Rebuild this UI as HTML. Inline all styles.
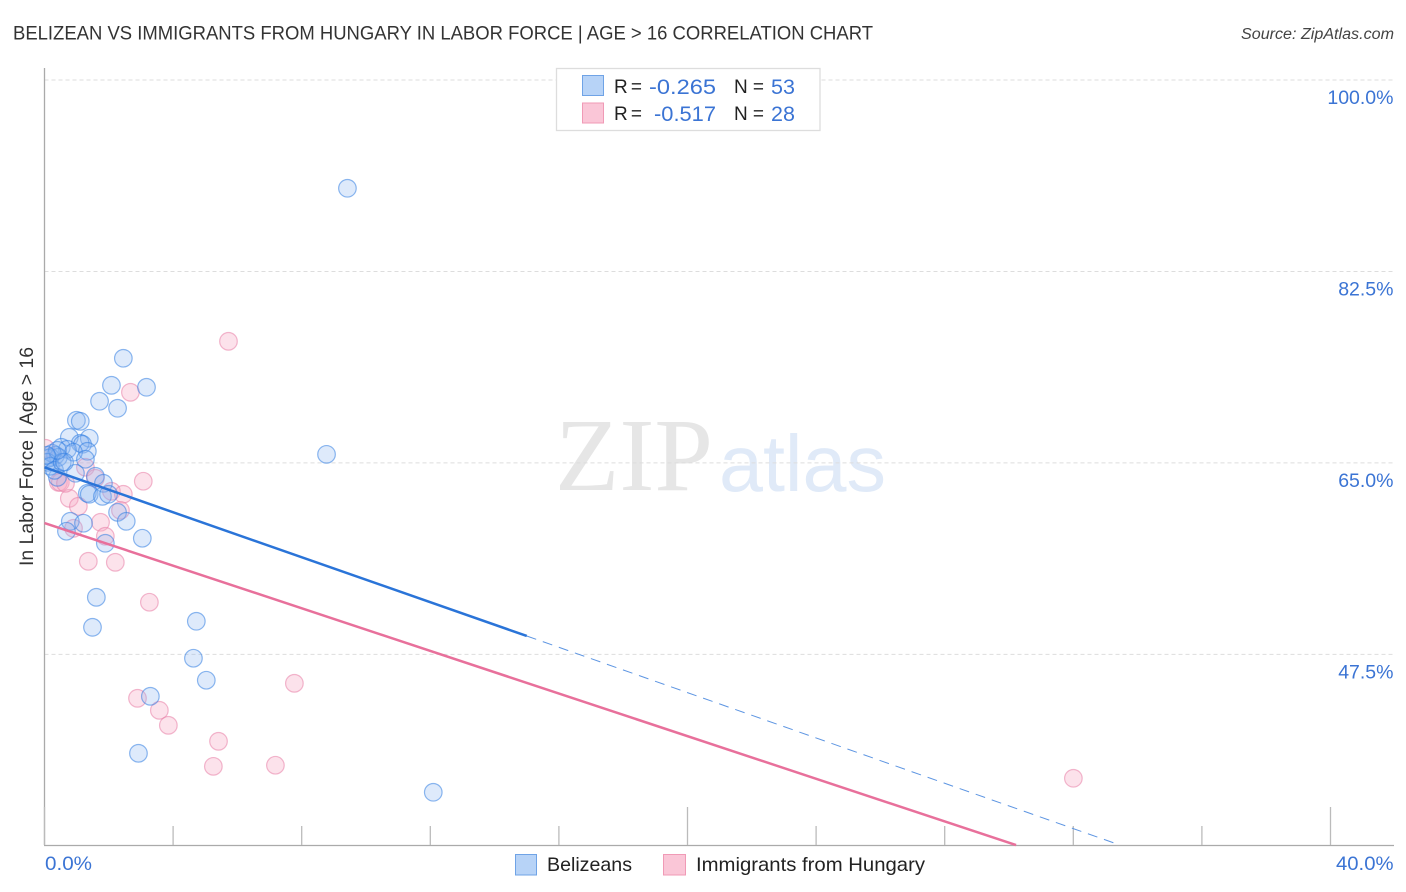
<!DOCTYPE html>
<html lang="en">
<head>
<meta charset="utf-8">
<title>Belizean vs Immigrants from Hungary Correlation Chart</title>
<style>
html,body{margin:0;padding:0;background:#fff;width:1406px;height:892px;overflow:hidden}
svg{display:block;font-family:"Liberation Sans",sans-serif}
</style>
</head>
<body>
<svg id="chart" width="1406" height="892" viewBox="0 0 1406 892" xmlns="http://www.w3.org/2000/svg">
  <defs><clipPath id="plot-clip"><rect x="44.5" y="60" width="1350" height="785"/></clipPath></defs>
  <text x="13" y="39.5" font-size="19" fill="#333" textLength="860" lengthAdjust="spacingAndGlyphs">BELIZEAN VS IMMIGRANTS FROM HUNGARY IN LABOR FORCE | AGE &gt; 16 CORRELATION CHART</text>
  <text x="1241" y="39" font-size="15.5" font-style="italic" fill="#444" textLength="153" lengthAdjust="spacingAndGlyphs">Source: ZipAtlas.com</text>

  <text x="555" y="490" font-family="'Liberation Serif',serif" font-size="104" fill="#e6e6e6" textLength="158" lengthAdjust="spacingAndGlyphs">ZIP</text>
  <text x="719" y="491" font-size="80" fill="#e0eaf8" textLength="167" lengthAdjust="spacingAndGlyphs">atlas</text>

  <g id="grid"></g>
  <line x1="44.5" y1="68" x2="44.5" y2="845" stroke="#aaa" stroke-width="1.3"/>
  <line x1="44" y1="845.5" x2="1394" y2="845.5" stroke="#aaa" stroke-width="1.3"/>
  <g id="ticks"></g>
  <g id="ylabels"></g>
  <g id="xlabels"></g>

  <g id="pink-points" clip-path="url(#plot-clip)"></g>
  <g id="blue-points" clip-path="url(#plot-clip)"></g>
  <g id="trends"></g>

  <text transform="translate(33,566) rotate(-90)" font-size="19" fill="#333" textLength="219" lengthAdjust="spacingAndGlyphs">In Labor Force | Age &gt; 16</text>

  <g>
    <rect x="556.5" y="68.5" width="263.5" height="62" fill="#fff" stroke="#ddd" stroke-width="1.3"/>
    <rect x="582.5" y="75.5" width="21" height="20" fill="#b7d3f7" stroke="#6fa3e6" stroke-width="1"/>
    <rect x="582.5" y="103" width="21" height="20" fill="#fac6d7" stroke="#f09ab6" stroke-width="1"/>
    <text x="614" y="93" font-size="19" fill="#222" textLength="28">R =</text>
    <text x="649" y="94" font-size="21.5" fill="#3b74d4" textLength="67" lengthAdjust="spacingAndGlyphs">-0.265</text>
    <text x="734" y="93" font-size="19" fill="#222" textLength="30">N =</text>
    <text x="771" y="94" font-size="21.5" fill="#3b74d4" textLength="24">53</text>
    <text x="614" y="120" font-size="19" fill="#222" textLength="28">R =</text>
    <text x="654" y="121" font-size="21.5" fill="#3b74d4" textLength="62" lengthAdjust="spacingAndGlyphs">-0.517</text>
    <text x="734" y="120" font-size="19" fill="#222" textLength="30">N =</text>
    <text x="771" y="121" font-size="21.5" fill="#3b74d4" textLength="24">28</text>
  </g>

  <g>
    <rect x="515.5" y="854.5" width="21" height="20.5" fill="#b7d3f7" stroke="#6fa3e6" stroke-width="1"/>
    <text x="547" y="871" font-size="19.5" fill="#222" textLength="85" lengthAdjust="spacingAndGlyphs">Belizeans</text>
    <rect x="663.5" y="854.5" width="22" height="20.5" fill="#fac6d7" stroke="#f09ab6" stroke-width="1"/>
    <text x="696" y="871" font-size="19.5" fill="#222" textLength="229" lengthAdjust="spacingAndGlyphs">Immigrants from Hungary</text>
  </g>
</svg>
<script>
const yTicks = [100, 82.5, 65, 47.5];
const yTickLabels = ["100.0%", "82.5%", "65.0%", "47.5%"];
const xTicks = [0, 4, 8, 12, 16, 20, 24, 28, 32, 36, 40];
const xMajorTicks = [0, 20, 40];
const xEndLabels = ["0.0%", "40.0%"];
const xEndValues = [0, 40];

const blueX = [9.41,2.44,2.07,3.16,1.70,2.26,0.98,1.10,0.76,1.38,1.10,1.17,0.51,1.32,0.70,0.89,0.33,0.17,0.11,0.42,0.23,1.26,0.95,1.57,1.82,1.32,1.38,1.79,1.98,2.26,2.53,0.79,1.20,0.67,1.88,3.03,0.39,1.60,1.48,4.71,4.62,5.02,3.28,2.91,12.08,8.76,0.08,0.17,0.30,0.54,0.61,0.39,0.05];
const blueY = [90.13,74.59,72.12,71.94,70.66,70.02,68.92,68.83,67.37,67.28,66.82,66.73,66.45,66.09,66.27,66.00,65.72,65.54,65.45,65.54,65.90,65.36,64.08,63.80,63.16,62.25,62.16,61.97,62.16,60.51,59.69,59.69,59.51,58.78,57.68,58.14,63.71,52.74,50.00,50.55,47.17,45.16,43.69,38.48,34.92,65.81,65.08,64.72,64.35,65.08,65.10,66.18,65.72];
const pinkX = [0.02,5.71,2.66,3.06,1.26,1.57,2.07,2.44,0.76,1.04,2.35,1.73,1.88,0.89,1.35,2.19,3.25,7.76,2.88,3.56,3.84,5.40,5.24,7.17,31.99,0.42,0.48,0.64];
const pinkY = [66.36,76.14,71.48,63.35,64.63,63.62,62.43,62.16,61.79,61.06,60.69,59.60,58.32,59.05,56.03,55.94,52.29,44.88,43.51,42.41,41.04,39.58,37.29,37.39,36.20,63.25,63.25,63.16];

const blueTrendX = [0, 15.0];
const blueTrendY = [64.6, 49.18];
const blueDashX = [15.0, 33.45];
const blueDashY = [49.18, 30.07];
const pinkTrendX = [0, 30.22];
const pinkTrendY = [59.5, 30.07];

const SVG_NS = "http://www.w3.org/2000/svg";
function xScale(v) { return 44.5 + v * 32.15; }
function yScale(v) { return 80 + (100 - v) * 10.94; }
function make(tag, parentId, attrs) {
  const el = document.createElementNS(SVG_NS, tag);
  for (const k in attrs) el.setAttribute(k, attrs[k]);
  document.getElementById(parentId).appendChild(el);
  return el;
}

yTicks.forEach(function (t, i) {
  const line = make("line", "grid", {x1: 44.5, x2: 1394, y1: yScale(t), y2: yScale(t), stroke: "#ddd", "stroke-width": 1, "stroke-dasharray": "4 3"});
  
  
  const label = make("text", "ylabels", {x: 1393.5, y: yScale(t) + 24, "text-anchor": "end", "font-size": 19.5, fill: "#3b74d4"});
  label.textContent = yTickLabels[i];
  
  
});

xTicks.forEach(function (t) {
  const top = xMajorTicks.indexOf(t) >= 0 ? 807 : 826;
  const tick = make("line", "ticks", {x1: xScale(t), x2: xScale(t), y1: top, y2: 845, stroke: "#bbb", "stroke-width": 1.3});
  
  
});

xEndValues.forEach(function (t, i) {
  const label = make("text", "xlabels", i === 0
    ? {x: xScale(t) + 0.5, y: 870, "font-size": 19.5, fill: "#3b74d4", textLength: 47, lengthAdjust: "spacingAndGlyphs"}
    : {x: 1336, y: 870, "font-size": 19.5, fill: "#3b74d4", textLength: 57.5, lengthAdjust: "spacingAndGlyphs"});
  label.textContent = xEndLabels[i];
  
  
});

pinkX.forEach(function (v, i) {
  const c = make("circle", "pink-points", {cx: xScale(v) + 0.4, cy: yScale(pinkY[i]) + 0.3, r: 8.8, fill: "rgba(246,170,195,0.34)", stroke: "rgba(232,125,165,0.55)", "stroke-width": 1.2});
  
  
});

blueX.forEach(function (v, i) {
  const c = make("circle", "blue-points", {cx: xScale(v) + 0.4, cy: yScale(blueY[i]) + 0.3, r: 8.8, fill: "rgba(135,180,240,0.28)", stroke: "rgba(50,125,225,0.55)", "stroke-width": 1.2});
  
  
});

const blueDash = make("line", "trends", {x1: xScale(blueDashX[0]), y1: yScale(blueDashY[0]), x2: xScale(blueDashX[1]), y2: yScale(blueDashY[1]), stroke: "#5d95e2", "stroke-width": 1, "stroke-dasharray": "10 7"});



const blueLine = make("line", "trends", {x1: xScale(blueTrendX[0]), y1: yScale(blueTrendY[0]), x2: xScale(blueTrendX[1]), y2: yScale(blueTrendY[1]), stroke: "#2a74d8", "stroke-width": 2.5});



const pinkLine = make("line", "trends", {x1: xScale(pinkTrendX[0]), y1: yScale(pinkTrendY[0]), x2: xScale(pinkTrendX[1]), y2: yScale(pinkTrendY[1]), stroke: "#e8709b", "stroke-width": 2.5});


</script>
</body>
</html>
